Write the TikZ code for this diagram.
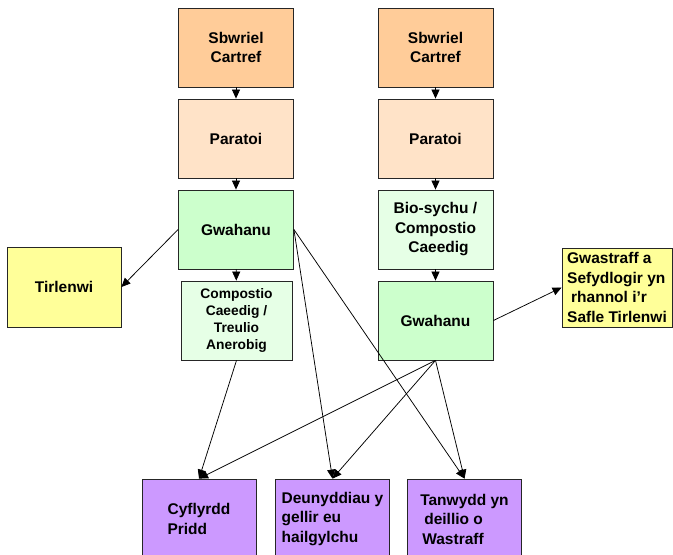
\documentclass[tikz,border=0pt]{standalone}
\usepackage{fontspec}
\setmainfont{Liberation Sans}
\usetikzlibrary{arrows.meta}

\definecolor{wastetan}{HTML}{FFCC99}
\definecolor{prepeach}{HTML}{FFE3C8}
\definecolor{sortgreen}{HTML}{CCFFCC}
\definecolor{palegreen}{HTML}{E6FFE6}
\definecolor{landyellow}{HTML}{FFFF99}
\definecolor{endpurple}{HTML}{CC99FF}

\begin{document}
\begin{tikzpicture}[x=1pt,y=-1pt,
  box/.style={draw=black!85,line width=0.8pt,minimum width=115pt,minimum height=79pt,
    inner sep=2pt,align=center,font=\bfseries\fontsize{15.5}{19.5}\selectfont},
  endbox/.style={box,fill=endpurple,minimum width=114pt,minimum height=80pt,align=left},
  arr/.style={-{Triangle[length=9pt,width=8pt]},line width=0.75pt}]

\useasboundingbox (0,0) rectangle (673,555);

% left line
\node[box,fill=wastetan] (sbwL) at (236,47.5) {Sbwriel\\Cartref};
\node[box,fill=prepeach] (parL) at (236,138.5) {Paratoi};
\node[box,fill=sortgreen] (gwahL) at (236,229.5) {Gwahanu};
\node[box,fill=landyellow,minimum width=114pt,minimum height=80pt] (tirl) at (64,287) {Tirlenwi};
\node[box,fill=palegreen,minimum width=111pt,font=\bfseries\fontsize{13.8}{16.8}\selectfont] (comp) at (236.5,320.5)
  {Compostio\\Caeedig /\\Treulio\\Anerobig};

% right line
\node[box,fill=wastetan] (sbwR) at (435.5,47.5) {Sbwriel\\Cartref};
\node[box,fill=prepeach] (parR) at (435.5,138.5) {Paratoi};
\node[box,fill=palegreen] (bio) at (435.5,229.5) {Bio-sychu /\\Compostio\\\hspace{6pt}Caeedig};
\node[box,fill=sortgreen] (gwahR) at (435.5,320.5) {Gwahanu};
\node[box,fill=landyellow,minimum width=110pt,align=left] (gwas) at (617,287.5)
  {Gwastraff a\\Sefydlogir yn\\\hspace{4pt}rhannol i’r\\Safle Tirlenwi};

% products
\node[endbox] (cyf) at (199,519) {Cyflyrdd\\Pridd};
\node[endbox] (deu) at (332.5,519) {Deunyddiau y\\gellir eu\\hailgylchu};
\node[endbox] (tan) at (464.5,519) {Tanwydd yn\\\hspace{4pt}deillio o\\\hspace{2pt}Wastraff};

\draw[arr] (sbwL) -- (parL);
\draw[arr] (parL) -- (gwahL);
\draw[arr] (gwahL) -- (comp);
\draw[arr] (gwahL.west) -- (tirl.east);
\draw[arr] (gwahL.east) -- (deu.north);
\draw[arr] (gwahL.east) -- (tan.north);
\draw[arr] (comp.south) -- (cyf.north);

\draw[arr] (sbwR) -- (parR);
\draw[arr] (parR) -- (bio);
\draw[arr] (bio) -- (gwahR);
\draw[arr] (gwahR.east) -- (gwas.west);
\foreach \dest in {cyf,deu,tan}
  \draw[arr] (gwahR.south) -- (\dest.north);

\end{tikzpicture}
\end{document}
